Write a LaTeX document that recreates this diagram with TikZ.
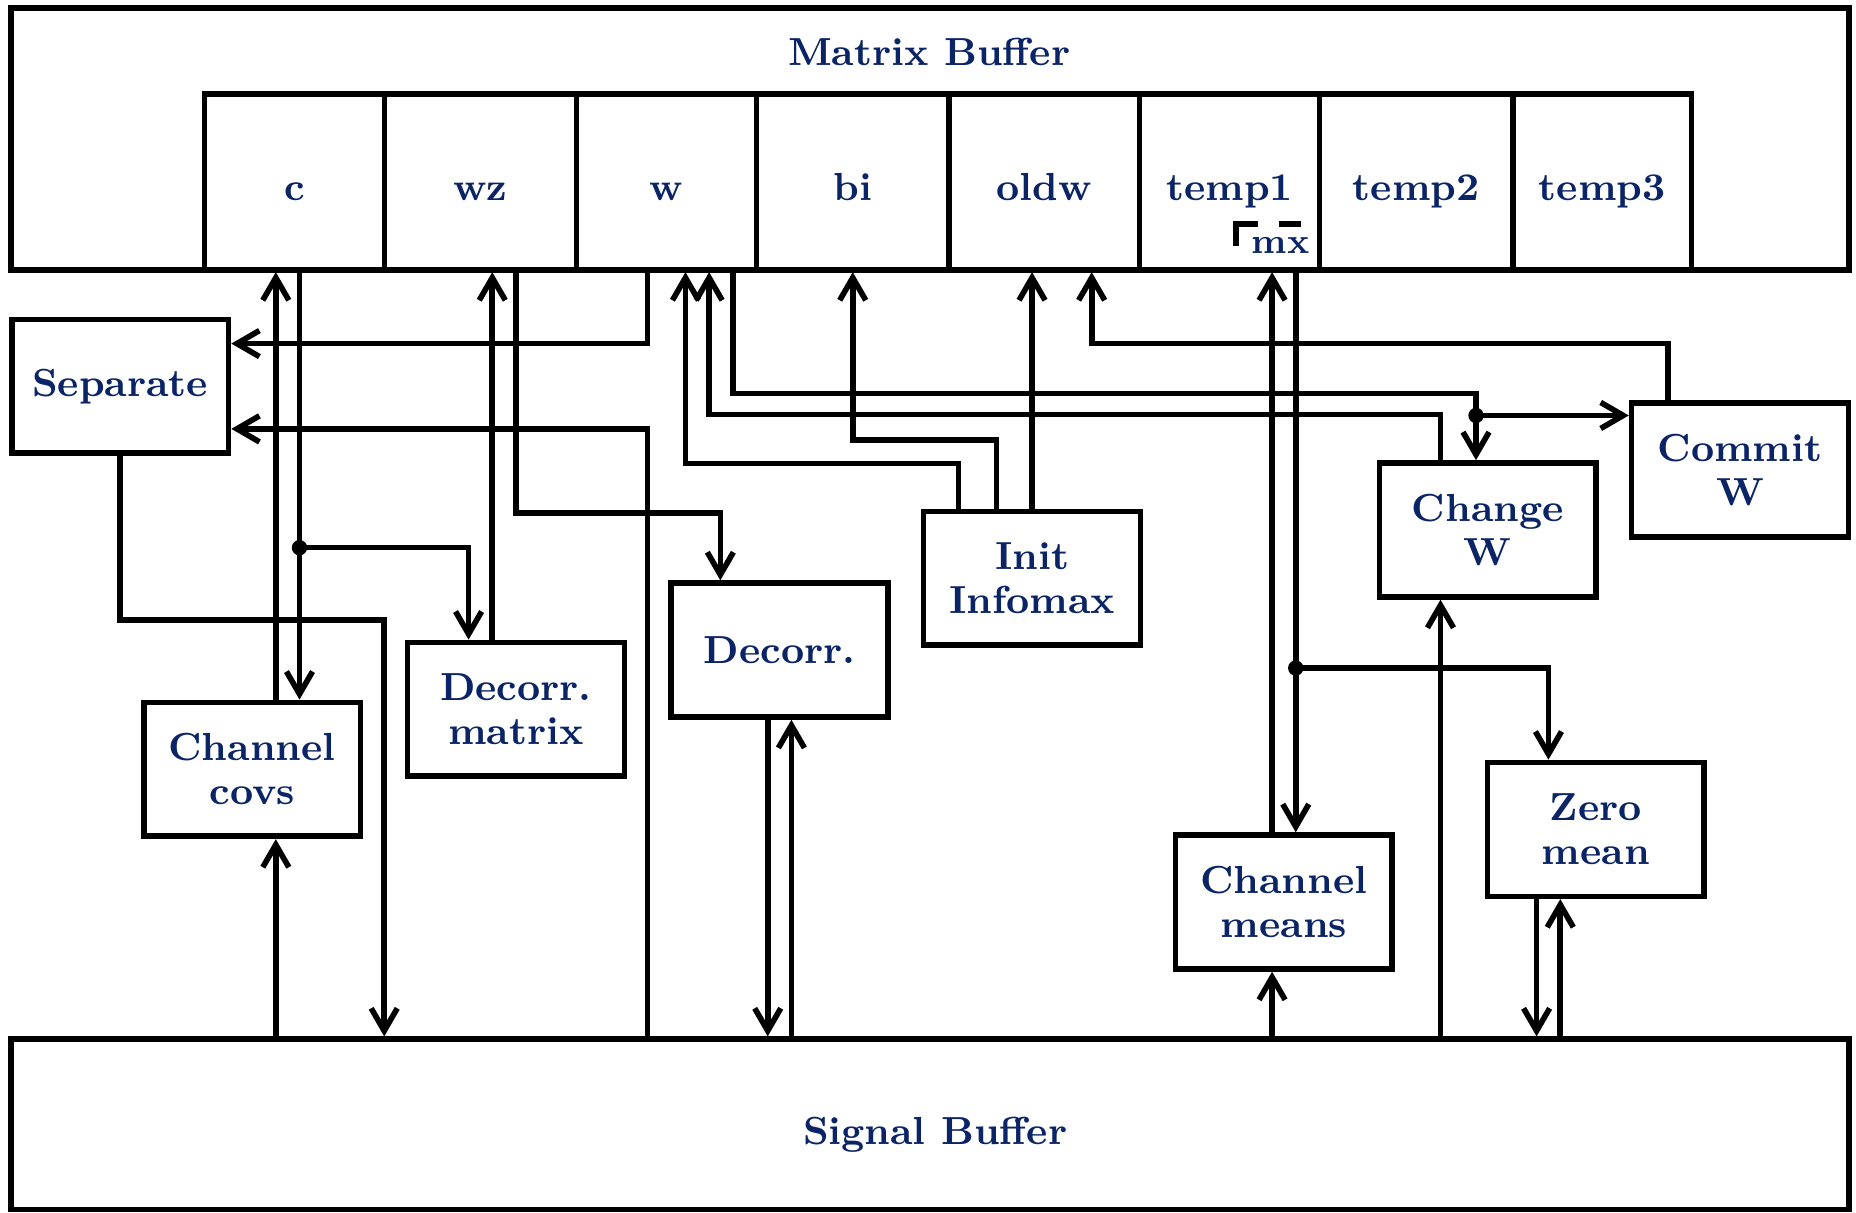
\documentclass[tikz,border=0pt]{standalone}
\usepackage{tikz}
\usetikzlibrary{arrows.meta,positioning}
\definecolor{navy}{HTML}{0A2466}
\newcommand\diagfont{\fontsize{9.4}{10.6}\selectfont\bfseries}

\begin{document}
\begin{tikzpicture}[x=0.01cm, y=-0.01cm, line width=1.35pt,
        buf/.style={rectangle, draw, minimum width=15.52cm},
        cell/.style={rectangle, draw, minimum height=1.48cm, outer xsep=0pt,
                     text height=8.8pt, text depth=0pt, font=\diagfont, text=navy},
        proc/.style={rectangle, draw, minimum width=1.83cm, minimum height=1.13cm,
                     align=center, font=\diagfont, text=navy},
        lbl/.style={font=\diagfont, text=navy, inner sep=0pt},
        arr/.style={-{Straight Barb[length=1.9mm, width=2.2mm]}}]
    \useasboundingbox (0,0) rectangle (1568,1024);

    % buffers
    \node[buf, minimum height=2.21cm] (mbuf) at (785.7,117.5) {};
    \node[lbl] (mlab) at (785,44) {Matrix Buffer};
    \node[buf, minimum height=1.438cm] (sig) at (785.7,949.9) {};
    \node[lbl] (slab) at (790,959) {Signal Buffer};

    % matrix cells
    \node[cell, minimum width=1.52cm] (c) at (248.9,153.5) {c};
    \node[cell, minimum width=1.62cm, right=0pt of c] (wz) {wz};
    \node[cell, minimum width=1.52cm, right=0pt of wz] (w) {w};
    \node[cell, minimum width=1.625cm, right=0pt of w] (bi) {bi};
    \node[cell, minimum width=1.61cm, right=0pt of bi] (oldw) {oldw};
    \node[cell, minimum width=1.52cm, right=0pt of oldw] (temp1) {temp1};
    \node[cell, minimum width=1.63cm, right=0pt of temp1] (temp2) {temp2};
    \node[cell, minimum width=1.51cm, right=0pt of temp2] (temp3) {temp3};
    \node[lbl, font=\fontsize{8.6}{10}\selectfont\bfseries] (mx) at (1082,207.5) {mx};
    \draw (1044,208) |- (1063,189);
    \draw (1080.5,189) -- (1099,189);

    % processing blocks
    \node[proc] (sep)    at (101.5,326.3) {Separate};
    \node[proc] (covs)   at (213,650)     {Channel\\covs};
    \node[proc] (dmat)   at (435.9,599.3) {Decorr.\\matrix};
    \node[proc] (decorr) at (658.6,549.2) {Decorr.};
    \node[proc] (init)   at (871.9,488.6) {Init\\Infomax};
    \node[proc] (chw)    at (1257,447.7)  {Change\\W};
    \node[proc] (comw)   at (1470,397)    {Commit\\W};
    \node[proc] (chm)    at (1084.7,762)  {Channel\\means};
    \node[proc] (zm)     at (1348.2,700.7) {Zero\\mean};

    \coordinate (jc) at (253,462.7);
    \coordinate (jw) at (1247,351);
    \coordinate (jt) at (1094.7,564.4);
    \coordinate (sepbend) at (324.6,524);

    % c, wz and the decorrelation
    \draw[arr] ([xshift=2mm]covs.north) -- ([xshift=2mm]covs.north |- c.south);
    \draw[arr] ([xshift=4mm]covs.north |- c.south) -- ([xshift=4mm]covs.north);
    \draw[arr] (jc) -| ([xshift=-4mm]dmat.north);
    \draw[arr] ([xshift=-2mm]dmat.north) -- ([xshift=-2mm]dmat.north |- wz.south);
    \draw[arr] ([xshift=3mm]wz.south) -- ++(0,203.5) -| ([xshift=-5mm]decorr.north);
    \draw[arr] ([xshift=-1mm]decorr.south) -- ([xshift=-1mm]decorr.south |- sig.north);
    \draw[arr] ([xshift=1mm]decorr.south |- sig.north) -- ([xshift=1mm]decorr.south);
    \draw[arr] ([xshift=2mm]covs.south |- sig.north) -- ([xshift=2mm]covs.south);

    % separation
    \draw[arr] ([xshift=-1.6mm]w.south) |- ([yshift=3.6mm]sep.east);
    \draw[arr] ([xshift=-1.6mm]w.south |- sig.north) |- ([yshift=-3.6mm]sep.east);
    \draw[arr] (sep.south) |- (sepbend) -- (sepbend |- sig.north);

    % infomax
    \draw[arr] ([xshift=-6.2mm]init.north) -- ++(0,-38) -| ([xshift=1.6mm]w.south);
    \draw[arr] ([xshift=-3mm]init.north) -- ++(0,-58) -| (bi.south);
    \draw[arr] (init.north) -- (init.north |- oldw.south);
    \draw[arr] ([xshift=5.6mm]w.south) -- ++(0,102.5) -| ([xshift=-1mm]chw.north);
    \draw[arr] (jw) -- (jw -| comw.west);
    \draw[arr] ([xshift=-4mm]chw.north) -- ++(0,-38.6) -| ([xshift=3.6mm]w.south);
    \draw[arr] ([xshift=-6.1mm]comw.north) -- ++(0,-48) -| ([xshift=4mm]oldw.south);
    \draw[arr] ([xshift=-4mm]chw.south |- sig.north) -- ([xshift=-4mm]chw.south);

    % means
    \draw[arr] ([xshift=-1mm]chm.north) -- ([xshift=-1mm]chm.north |- temp1.south);
    \draw[arr] ([xshift=1mm]chm.north |- temp1.south) -- ([xshift=1mm]chm.north);
    \draw[arr] (jt) -| ([xshift=-4mm]zm.north);
    \draw[arr] ([xshift=-1mm]chm.south |- sig.north) -- ([xshift=-1mm]chm.south);
    \draw[arr] ([xshift=-5mm]zm.south) -- ([xshift=-5mm]zm.south |- sig.north);
    \draw[arr] ([xshift=-3mm]zm.south |- sig.north) -- ([xshift=-3mm]zm.south);

    \foreach \j in {jc,jw,jt} \fill (\j) circle (0.65mm);
\end{tikzpicture}
\end{document}
